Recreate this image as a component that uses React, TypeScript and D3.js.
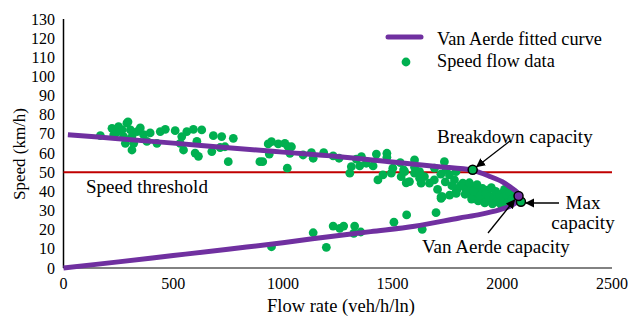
import * as d3 from "d3";

// fitted curve (upper branch to capacity, then lower branch)
const curveFlow = [20, 250, 500, 750, 1000, 1250, 1500, 1700, 1865, 1950, 2000, 2040, 2068, 2078, 2070, 2040, 1990, 1900, 1800, 1600, 1400, 1200, 1000, 750, 500, 250, 0];
const curveSpeed = [69.6, 67.5, 65.2, 62.8, 60.5, 58.2, 55.3, 53, 51, 47.5, 45, 42, 39.5, 37.6, 35, 32.5, 30.5, 28, 26, 21.8, 19, 16.2, 13.2, 9.8, 6.5, 3.2, 0];

// observed speed-flow points
const dataFlow = [
  168, 221, 229, 251, 267, 274, 289, 282, 305, 312, 320, 312, 335, 350, 365, 380, 395, 426, 441, 464,
  509, 539, 532, 547, 562, 592, 608, 600, 630, 615, 683, 676, 721, 714, 736, 774, 751, 895, 294, 240,
  908, 933, 948, 938, 979, 1009, 1024, 1039, 1032, 1020, 1092, 1130, 1138, 1186, 1229, 1256, 1335, 1358, 1312, 1305,
  1350, 1380, 1411, 1426, 1474, 1474, 1433, 1456, 1501, 1494, 1535, 1539, 1562, 1550, 1600, 1600, 1623, 1630,
  1555, 1600, 1577, 1623, 1645, 1668, 1691, 1736, 1744, 1721, 1759, 1782, 1789, 1797, 1820, 1835, 1850, 1873,
  1880, 1895, 1918, 1933, 1941, 1964, 1986, 2001, 2017, 2039, 1727, 1789,
  1810, 1830, 1845, 1860, 1870, 1885, 1890, 1900, 1910, 1920, 1925, 1940, 1950, 1955, 1960, 1970, 1975, 1990,
  1995, 2005, 2010, 2020, 2025, 2035, 2045, 2055, 2060, 1850, 1790, 1770, 1760, 1740, 1705, 1690, 1720,
  948, 1138, 1198, 1229, 1259, 1277, 1327, 1323, 1355, 1506, 1564, 1635, 1698, 1721,
];
const dataSpeed = [
  69.1, 72.9, 69.5, 73.8, 72.1, 68.6, 75.6, 65.1, 72.1, 68.6, 65.1, 61.6, 71.2, 73.1, 69.6, 66.1, 70.5, 65.1, 71.2, 72.4,
  71.7, 68.6, 65.1, 61.6, 71.2, 72.4, 66.1, 60.0, 72.1, 58.3, 69.1, 60.8, 68.6, 62.9, 63.3, 67.7, 55.5, 55.5, 76.3, 70.5,
  55.5, 64.8, 66.0, 59.5, 64.8, 65.1, 63.3, 63.3, 59.9, 52.1, 59.0, 60.2, 57.3, 60.2, 58.5, 57.3, 56.8, 58.1, 52.9, 49.5,
  53.3, 54.7, 53.3, 59.5, 59.9, 57.8, 46.0, 48.6, 52.1, 49.5, 55.0, 47.7, 44.5, 51.2, 52.6, 49.5, 46.9, 44.3,
  50.3, 56.4, 45.1, 50.3, 47.7, 44.3, 52.1, 55.5, 51.2, 36.4, 48.6, 46.0, 50.3, 41.6, 44.3, 40.7, 39.0, 42.5,
  37.2, 39.8, 37.2, 40.7, 35.5, 38.1, 36.4, 39.0, 35.5, 37.2, 37.2, 39.8,
  43, 38.5, 42, 36, 40, 43.5, 35, 38, 41.5, 34, 39, 37, 42, 33.5, 36, 40, 34.5, 38,
  33, 37, 41, 38, 34, 39.5, 36, 38, 35.5, 44.5, 39, 43, 38, 45, 41, 46, 49,
  11.1, 18.4, 10.8, 21.9, 20.7, 21.9, 21.9, 18.1, 18.8, 23.9, 27.7, 20.2, 28.9, 37.2,
];

const xTicks = [0, 500, 1000, 1500, 2000, 2500];
const yTicks = [0, 10, 20, 30, 40, 50, 60, 70, 80, 90, 100, 110, 120, 130];
const speedThreshold = 50;

// highlighted points: breakdown, max, Van Aerde capacity
const breakdownCap = [1865, 51.3];
const maxCap = [2085, 34.6];
const vaCap = [2074, 37.6];

const W = 628;
const H = 317;
const FONT = '"Liberation Serif", "Times New Roman", serif';
const PURPLE = "#7030A0";
const GREEN = "#00B050";

export default function App() {
  const x = d3.scaleLinear().domain([0, 2500]).range([63.5, 612]);
  const y = d3.scaleLinear().domain([0, 130]).range([268, 19]);

  const line = d3
    .line<number>()
    .x((i) => x(curveFlow[i]))
    .y((i) => y(curveSpeed[i]))
    .curve(d3.curveCatmullRom.alpha(0.5));

  const idx = d3.range(curveFlow.length);
  const txt = { fontFamily: FONT, fill: "#000" };

  return (
    <svg width={W} height={H} style={{ position: "absolute", left: 0, top: 0, background: "#fff", fontFamily: FONT }}>
      <defs>
        <marker id="arr" viewBox="0 0 10 10" refX="9" refY="5" markerWidth="7" markerHeight="7" orient="auto">
          <path d="M0,0 L10,5 L0,10 z" fill="#000" />
        </marker>
      </defs>

      {/* axes */}
      <line x1={x(0)} x2={x(2500)} y1={y(0)} y2={y(0)} stroke="#595959" strokeWidth={1.5} />
      <line x1={x(0)} x2={x(0)} y1={y(0)} y2={y(130)} stroke="#000" strokeWidth={1.5} />

      {yTicks.map((t) => (
        <text key={t} x={55} y={y(t) + 5.5} textAnchor="end" fontSize={16} style={txt}>
          {t}
        </text>
      ))}
      {xTicks.map((t) => (
        <text key={t} x={x(t)} y={289} textAnchor="middle" fontSize={16} style={txt}>
          {t}
        </text>
      ))}

      <text x={341} y={312} textAnchor="middle" fontSize={18.5} style={txt}>
        Flow rate (veh/h/ln)
      </text>
      <text transform={`translate(25,${154}) rotate(-90)`} textAnchor="middle" fontSize={17} style={txt}>
        Speed (km/h)
      </text>

      {/* threshold */}
      <line x1={x(0)} x2={x(2500)} y1={y(speedThreshold)} y2={y(speedThreshold)} stroke="#C00000" strokeWidth={2} />
      <text x={86} y={193} fontSize={19} style={txt}>
        Speed threshold
      </text>

      {/* data */}
      {dataFlow.map((f, i) => (
        <circle key={i} cx={x(f)} cy={y(dataSpeed[i])} r={4.4} fill={GREEN} />
      ))}

      {/* fitted curve */}
      <path d={line(idx) ?? ""} fill="none" stroke={PURPLE} strokeWidth={5} />

      {/* highlighted points */}
      <circle cx={x(breakdownCap[0])} cy={y(breakdownCap[1])} r={4.5} fill={GREEN} stroke="#000" strokeWidth={1.5} />
      <circle cx={x(maxCap[0])} cy={y(maxCap[1])} r={4.5} fill={GREEN} stroke="#000" strokeWidth={1.5} />
      <circle cx={x(vaCap[0])} cy={y(vaCap[1])} r={4.5} fill={PURPLE} stroke="#000" strokeWidth={1.5} />

      {/* annotations */}
      <text x={437} y={143} fontSize={19} style={txt}>
        Breakdown capacity
      </text>
      <line x1={510} y1={141} x2={x(breakdownCap[0]) + 4} y2={y(breakdownCap[1]) - 3} stroke="#000" strokeWidth={1.3} markerEnd="url(#arr)" />

      <text x={583} y={209} textAnchor="middle" fontSize={19} style={txt}>
        Max
      </text>
      <text x={583} y={229} textAnchor="middle" fontSize={19} style={txt}>
        capacity
      </text>
      <line x1={559} y1={203} x2={x(maxCap[0]) + 5} y2={203} stroke="#000" strokeWidth={1.3} markerEnd="url(#arr)" />

      <text x={422} y={253} fontSize={19} style={txt}>
        Van Aerde capacity
      </text>
      <line x1={488} y1={233} x2={x(vaCap[0]) - 4} y2={y(vaCap[1]) + 4} stroke="#000" strokeWidth={1.3} markerEnd="url(#arr)" />

      {/* legend */}
      <line x1={388} x2={421} y1={37} y2={37} stroke={PURPLE} strokeWidth={5} strokeLinecap="round" />
      <text x={437} y={45} fontSize={18.3} style={txt}>
        Van Aerde fitted curve
      </text>
      <circle cx={406} cy={62} r={4.4} fill={GREEN} />
      <text x={437} y={67} fontSize={18.3} style={txt}>
        Speed flow data
      </text>
    </svg>
  );
}
